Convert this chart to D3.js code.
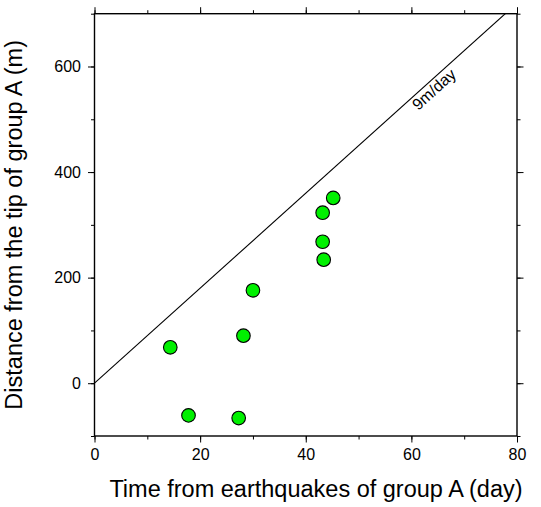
<!DOCTYPE html>
<html>
<head>
<meta charset="utf-8">
<script src="https://cdn.jsdelivr.net/npm/d3@7"></script>
<style>
  html, body { margin: 0; padding: 0; background: #fff; }
  svg { display: block; }
  text { font-family: "Liberation Sans", Arial, Helvetica, sans-serif; fill: #000; }
</style>
</head>
<body>
<div id="chart"></div>
<script>
// ---- data ----
const days = [14.35, 17.8, 27.3, 28.2, 30.0, 43.2, 43.4, 43.2, 45.2];
const distances = [68, -61, -66, 90, 176, 268, 234, 323, 351];
const xTicks = [0, 20, 40, 60, 80];
const yTicks = [0, 200, 400, 600];
const rateLabel = "9m/day";
const rate = 9; // m per day
const xTitle = "Time from earthquakes of group A (day)";
const yTitle = "Distance from the tip of group A (m)";

// ---- layout ----
const W = 541, H = 507;
const L = 94.5, R = 517, T = 13.7, B = 436;

const svg = d3.select("#chart").append("svg").attr("width", W).attr("height", H);

const x = d3.scaleLinear().domain([0, 80]).range([L, R]);
const y = d3.scaleLinear().domain([-100, 700]).range([B, T]);

const xMinor = d3.range(0, 81, 10);
const yMinor = d3.range(-100, 701, 100);

const tickFont = "16px";
function styleAxis(g) {
  g.select(".domain").remove();
  g.selectAll(".tick line").attr("stroke", "#000").attr("stroke-width", 1);
  g.selectAll(".tick text").style("font-size", tickFont).attr("fill", "#000");
}

// minor ticks
svg.append("g").attr("transform", `translate(0,${B})`)
  .call(d3.axisBottom(x).tickValues(xMinor).tickSize(3.5).tickFormat("")).call(styleAxis);
svg.append("g").attr("transform", `translate(0,${T})`)
  .call(d3.axisTop(x).tickValues(xMinor).tickSize(3.5).tickFormat("")).call(styleAxis);
svg.append("g").attr("transform", `translate(${L},0)`)
  .call(d3.axisLeft(y).tickValues(yMinor).tickSize(3.5).tickFormat("")).call(styleAxis);
svg.append("g").attr("transform", `translate(${R},0)`)
  .call(d3.axisRight(y).tickValues(yMinor).tickSize(3.5).tickFormat("")).call(styleAxis);

// major ticks
svg.append("g").attr("transform", `translate(0,${B})`)
  .call(d3.axisBottom(x).tickValues(xTicks).tickSize(6.5).tickPadding(6).tickFormat(d3.format("d"))).call(styleAxis);
svg.append("g").attr("transform", `translate(0,${T})`)
  .call(d3.axisTop(x).tickValues(xTicks).tickSize(6.5).tickFormat("")).call(styleAxis);
svg.append("g").attr("transform", `translate(${L},0)`)
  .call(d3.axisLeft(y).tickValues(yTicks).tickSize(6.5).tickPadding(7).tickFormat(d3.format("d"))).call(styleAxis);
svg.append("g").attr("transform", `translate(${R},0)`)
  .call(d3.axisRight(y).tickValues(yTicks).tickSize(6.5).tickFormat("")).call(styleAxis);

// clip for line
svg.append("clipPath").attr("id", "clip").append("rect")
  .attr("x", L).attr("y", T).attr("width", R - L).attr("height", B - T);

// rate line
const x0 = 0, x1 = 80;
svg.append("line")
  .attr("clip-path", "url(#clip)")
  .attr("x1", x(x0)).attr("y1", y(rate * x0))
  .attr("x2", x(x1)).attr("y2", y(rate * x1))
  .attr("stroke", "#000").attr("stroke-width", 1.1);

// label along line
const lx = 63.2;
const ang = Math.atan2(y(rate * lx + rate) - y(rate * lx), x(lx + 1) - x(lx)) * 180 / Math.PI;
svg.append("text")
  .attr("transform", `translate(${x(lx)},${y(rate * lx)}) rotate(${ang})`)
  .attr("text-anchor", "middle")
  .attr("dy", 14)
  .style("font-size", "16px")
  .text(rateLabel);

// frame
svg.append("rect")
  .attr("x", L).attr("y", T).attr("width", R - L).attr("height", B - T)
  .attr("fill", "none").attr("stroke", "#000").attr("stroke-width", 1.4);

// points
svg.append("g").selectAll("circle")
  .data(days.map((d, i) => ({ d, v: distances[i] })))
  .join("circle")
  .attr("cx", p => x(p.d)).attr("cy", p => y(p.v))
  .attr("r", 6.8)
  .attr("fill", "#00f000").attr("stroke", "#000").attr("stroke-width", 1.1);

// axis titles
svg.append("text")
  .attr("x", 316).attr("y", 497)
  .attr("text-anchor", "middle")
  .style("font-size", "23.5px")
  .text(xTitle);

svg.append("text")
  .attr("transform", `translate(22,${(T + B) / 2}) rotate(-90)`)
  .attr("text-anchor", "middle")
  .style("font-size", "23.5px")
  .text(yTitle);
</script>
</body>
</html>
